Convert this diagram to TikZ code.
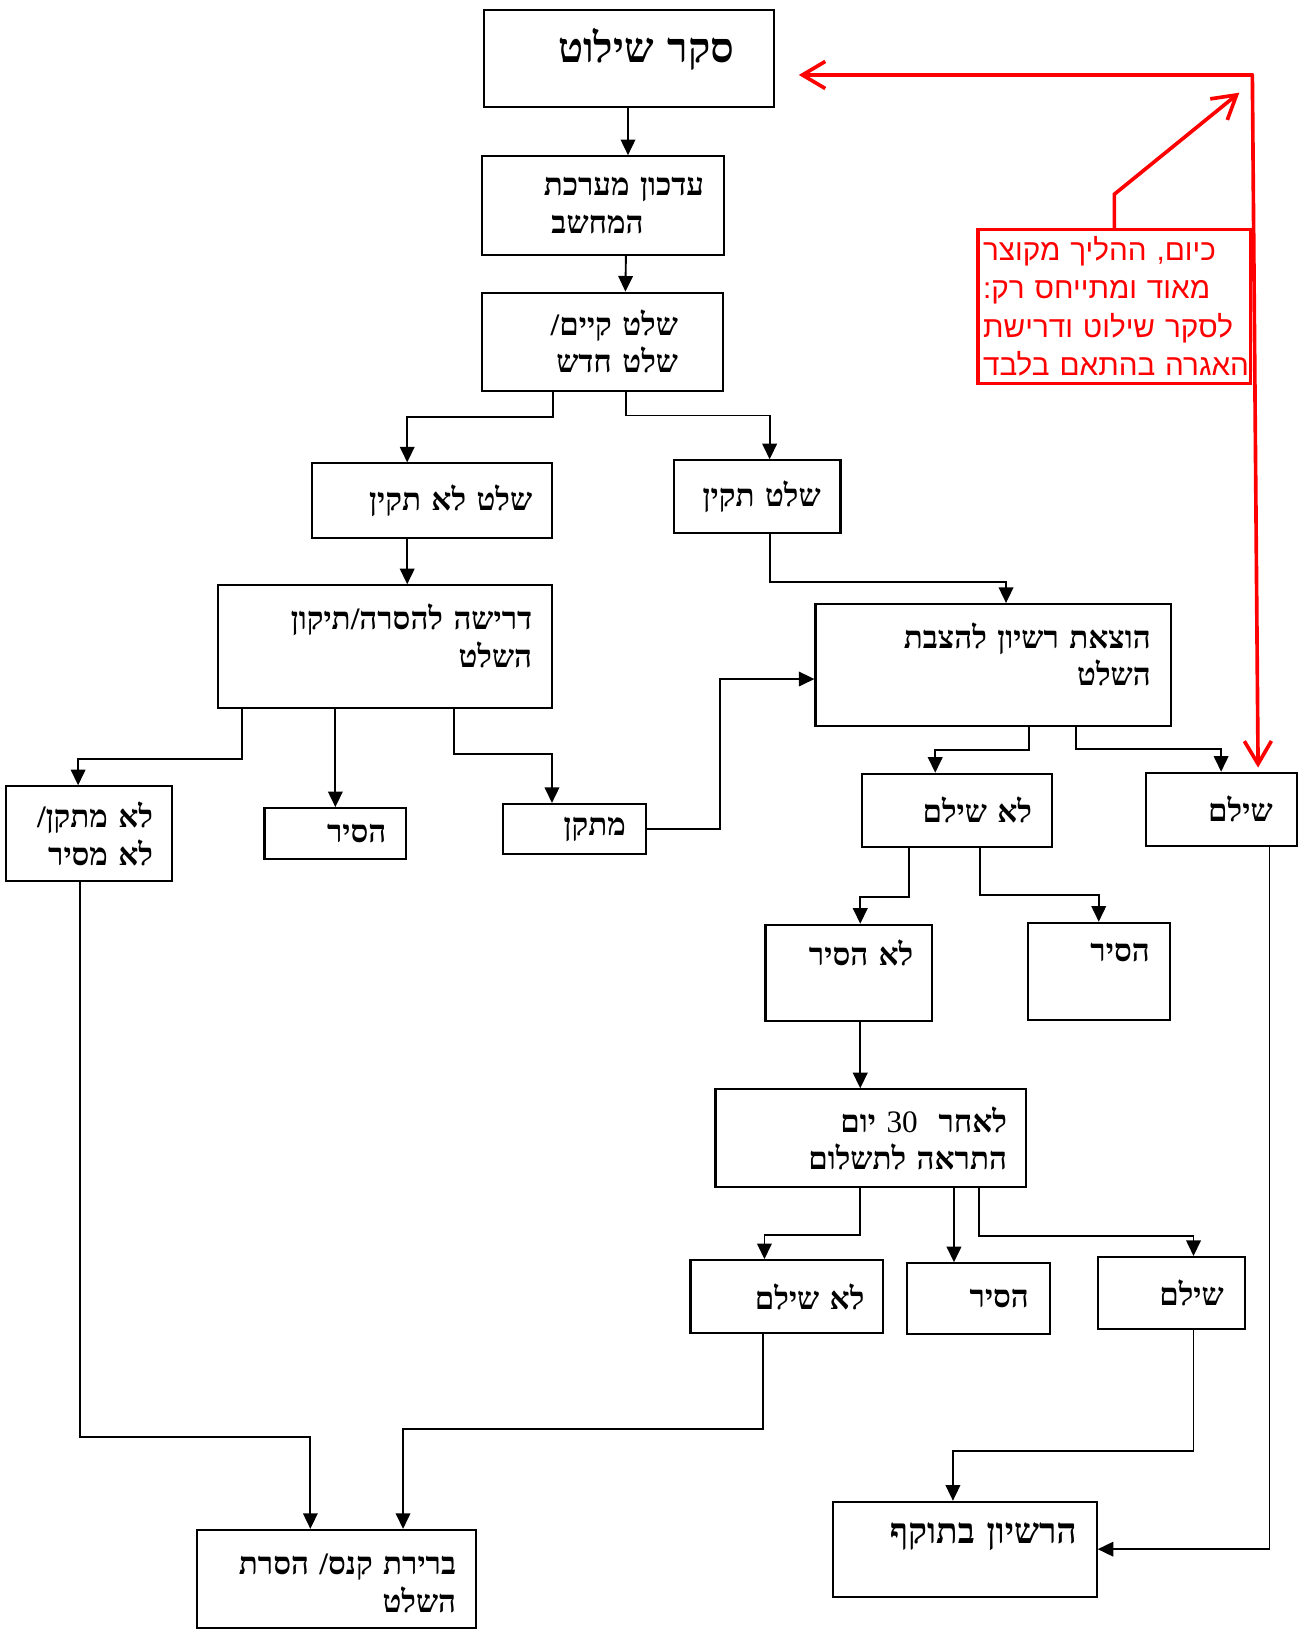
\documentclass[tikz,border=0pt]{standalone}
\usepackage{fontspec}
\TeXXeTstate=1
\newfontfamily\hebserif[Script=Hebrew]{Liberation Serif}
\newfontfamily\hebsans[Script=Hebrew]{Liberation Sans}
\newcommand{\heb}[1]{\mbox{\beginR #1\endR}}
\usetikzlibrary{positioning}
\usetikzlibrary{arrows.meta}
\tikzstyle{box} = [rectangle, draw=black, line width=2pt, inner sep=0pt, align=right, font=\hebserif\bfseries\fontsize{30}{36}\selectfont]
\tikzstyle{notebox} = [rectangle, draw=red, line width=3pt, inner sep=0pt, align=left, text=red, font=\hebsans\fontsize{28.5}{37}\selectfont]
\tikzstyle{arrow} = [line width=1.8pt, -{Triangle[length=15pt,width=14pt]}]
\tikzstyle{redline} = [draw=red, line width=3.5pt, line cap=round]
\tikzstyle{barb} = [-{Straight Barb[length=22pt,width=26pt]}]

\begin{document}
\begin{tikzpicture}[x=1pt, y=-1pt]
        \useasboundingbox (0,0) rectangle (1247,1568);
        \node (survey) [box, minimum width=278, minimum height=93, text width=202, text depth=26pt, font=\hebserif\bfseries\fontsize{40}{44}\selectfont] at (604,56.5) {\heb{סקר שילוט}};
        \node (update) [box, minimum width=232, minimum height=95, text width=194] at (579,197.5) {\heb{עדכון מערכת}\\ \heb{המחשב}\rule{58pt}{0pt}};
        \node (signtype) [box, minimum width=231, minimum height=94, text width=145] at (578.5,328) {\heb{שלט קיים/}\\ \heb{שלט חדש}};
        \node (faulty) [box, minimum width=230, minimum height=72, text width=192] at (415,481) {\heb{שלט לא תקין}};
        \node (valid) [box, minimum width=160, minimum height=70, text width=122] at (727,477) {\heb{שלט תקין}};
        \node (demand) [box, minimum width=321, minimum height=118, text width=283, text depth=57pt] at (369.5,621) {\heb{דרישה להסרה/תיקון}\\ \heb{השלט}};
        \node (permit) [box, minimum width=341, minimum height=117, text width=303, text depth=57pt] at (953.5,638.5) {\heb{הוצאת רשיון להצבת}\\ \heb{השלט}};
        \node (nofix) [box, minimum width=159, minimum height=91, text width=123] at (85.5,800.5) {\heb{לא מתקן/}\\ \heb{לא מסיר}};
        \node (removed1) [box, minimum width=136, minimum height=49, text width=98] at (322,800.5) {\heb{הסיר}};
        \node (fixed) [box, minimum width=137, minimum height=48, text width=99] at (551.5,796) {\heb{מתקן}};
        \node (notpaid1) [box, minimum width=182, minimum height=70, text width=144] at (919,778) {\heb{לא שילם}};
        \node (paid1) [box, minimum width=145, minimum height=70, text width=99] at (1172.5,777) {\heb{שילם}};
        \node (notremoved) [box, minimum width=160, minimum height=92, text width=124, text depth=38pt] at (815,934) {\heb{לא הסיר}};
        \node (removed2) [box, minimum width=136, minimum height=93, text width=98, text depth=36pt] at (1055,932.5) {\heb{הסיר}};
        \node (warning) [box, minimum width=298, minimum height=94, text width=262] at (836,1093) {\heb{לאחר\ \ \beginL{\mdseries 30}\endL\ יום}\\ \heb{התראה לתשלום}};
        \node (notpaid2) [box, minimum width=185, minimum height=70, text width=149] at (755.5,1245) {\heb{לא שילם}};
        \node (removed3) [box, minimum width=137, minimum height=68, text width=97] at (939.5,1247) {\heb{הסיר}};
        \node (paid2) [box, minimum width=141, minimum height=69, text width=101] at (1124.5,1241.5) {\heb{שילם}};
        \node (fine) [box, minimum width=268, minimum height=94, text width=230, text depth=28pt] at (323,1516) {\heb{ברירת קנס/ הסרת}\\ \heb{השלט}};
        \node (license) [box, minimum width=253, minimum height=91, text width=215, text depth=30pt, font=\hebserif\bfseries\fontsize{34}{38}\selectfont] at (926.5,1487.5) {\heb{הרשיון בתוקף}};
        \node (note) [notebox, minimum width=262, minimum height=148, text width=252] at (1070,294) {\heb{כיום, ההליך מקוצר}\\ \heb{מאוד ומתייחס רק:}\\ \heb{לסקר שילוט ודרישת}\\ \heb{האגרה בהתאם בלבד}};
        \coordinate (tipsurvey) at (767,72);
        \coordinate (corner) at (note.north east |- tipsurvey);
        \coordinate (tipcorner) at (1190,89);
        % main flow
        \draw [arrow] ([xshift=-1pt]survey.south) -- ([xshift=24pt]update.north);
        \draw [arrow] ([xshift=22pt]update.south) -- ([xshift=22pt]signtype.north);
        \draw [arrow] ([xshift=-47.5pt]signtype.south) -- ++(0,24) -| ([xshift=-24pt]faulty.north);
        \draw [arrow] ([xshift=22.5pt]signtype.south) -- ++(0,23) -| ([xshift=12pt]valid.north);
        \draw [arrow] ([xshift=-24pt]faulty.south) -- ([xshift=21.5pt]demand.north);
        \draw [arrow] ([xshift=12pt]valid.south) -- ++(0,46) -| ([xshift=12.5pt]permit.north);
        \draw [arrow] ([xshift=-137.5pt]demand.south) -- ++(0,48) -| ([xshift=-10.5pt]nofix.north);
        \draw [arrow] ([xshift=-47.5pt]demand.south) -- (removed1.north);
        \draw [arrow] ([xshift=66.5pt]demand.south) -- ++(0,43) -| ([xshift=-21.5pt]fixed.north);
        \draw [arrow] (fixed.east) -- ++(70,0) |- ([yshift=-13.5pt]permit.west);
        \draw [arrow] ([xshift=34.5pt]permit.south) -- ++(0,22) -| ([xshift=-21pt]notpaid1.north);
        \draw [arrow] ([xshift=79.5pt]permit.south) -- ++(0,21) -| (paid1.north);
        \draw [arrow] ([xshift=-46pt]notpaid1.south) -- ++(0,47) -| ([xshift=11pt]notremoved.north);
        \draw [arrow] ([xshift=22pt]notpaid1.south) -- ++(0,45) -| (removed2.north);
        \draw [arrow] ([xshift=11pt]notremoved.south) -- ([xshift=-10pt]warning.north);
        \draw [arrow] ([xshift=-10pt]warning.south) -- ++(0,45) -| ([xshift=-21.5pt]notpaid2.north);
        \draw [arrow] ([xshift=80pt]warning.south) -- ([xshift=-23.5pt]removed3.north);
        \draw [arrow] ([xshift=104pt]warning.south) -- ++(0,46) -| ([xshift=21.5pt]paid2.north);
        \draw [arrow] ([xshift=-8.5pt]nofix.south) -- ++(0,533) -| ([xshift=-25pt]fine.north);
        \draw [arrow] ([xshift=-22.5pt]notpaid2.south) -- ++(0,91) -| ([xshift=64pt]fine.north);
        \draw [arrow] ([xshift=21.5pt]paid2.south) -- ++(0,116) -| ([xshift=-11.5pt]license.north);
        \draw [arrow] ([xshift=46.5pt]paid1.south) |- (license.east);
        % red remark
        \draw [redline, barb] (corner) -- (tipsurvey);
        \draw [redline, barb] (corner) -- ([xshift=35.5pt,yshift=4pt]paid1.north);
        \draw [redline, barb] (note.north) -- ++(0,-32) -- (tipcorner);
\end{tikzpicture}
\end{document}
